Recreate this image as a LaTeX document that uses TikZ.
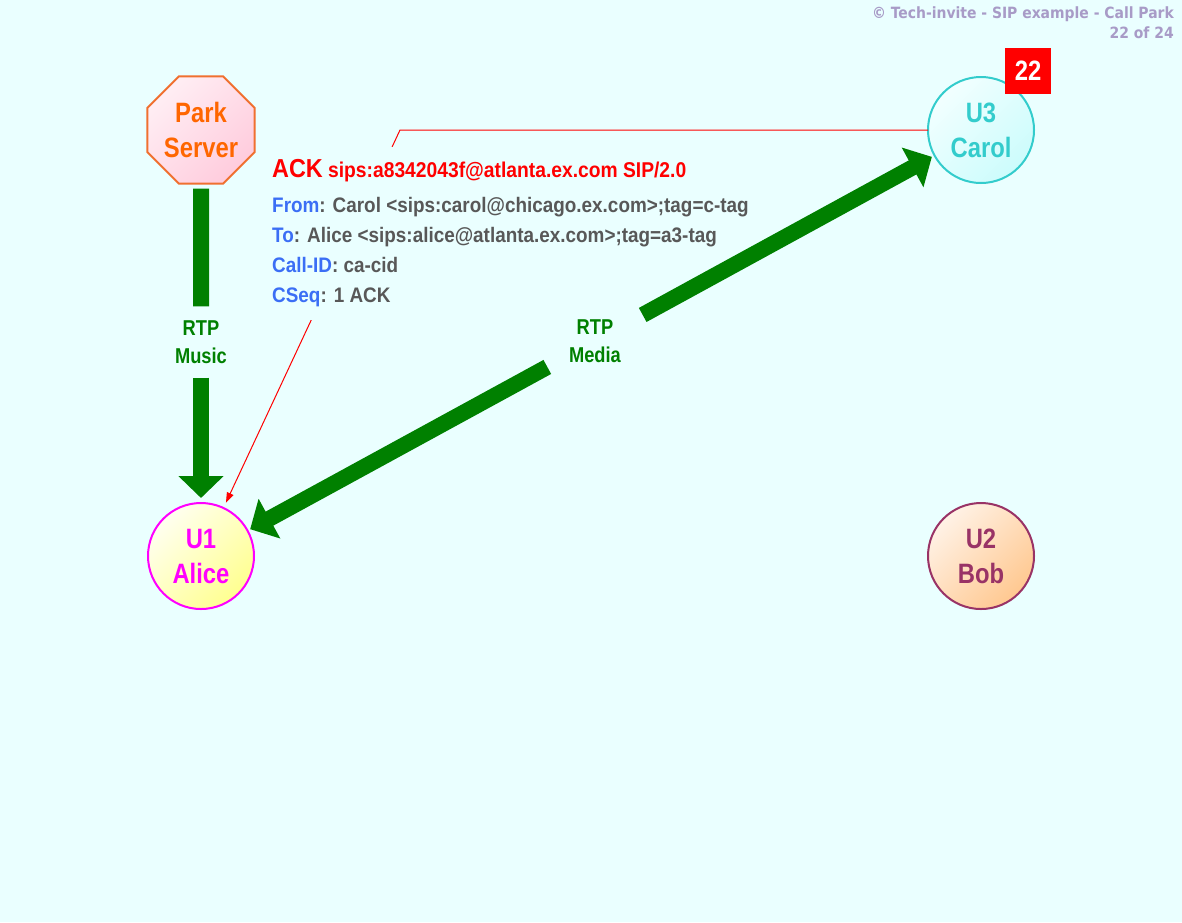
\documentclass[tikz,border=0pt]{standalone}
\usepackage{fontspec}
\setmainfont{Liberation Sans}
\newfontfamily\msgfont[FakeStretch=0.9]{Liberation Sans}
\newfontfamily\lblfont[FakeStretch=0.85]{Liberation Sans}
\newfontfamily\hdrfont{DejaVu Sans Condensed}
\usetikzlibrary{shapes.geometric,arrows.meta}
\definecolor{bg}{HTML}{EAFFFF}
\definecolor{hdrcol}{HTML}{A89BC7}
\definecolor{rtpgreen}{HTML}{008000}
\definecolor{fieldblue}{HTML}{3B6EF5}
\definecolor{valgray}{HTML}{585858}
\definecolor{alicebd}{HTML}{FF00FF}
\definecolor{alicelt}{HTML}{FFFFF0}
\definecolor{alicedk}{HTML}{FFFF90}
\definecolor{carolbd}{HTML}{33CCCC}
\definecolor{carollt}{HTML}{F2FFFF}
\definecolor{caroldk}{HTML}{CCFCFC}
\definecolor{bobbd}{HTML}{993366}
\definecolor{boblt}{HTML}{FFF2E6}
\definecolor{bobdk}{HTML}{FFC890}
\definecolor{parkbd}{HTML}{F07030}
\definecolor{parktx}{HTML}{FF6600}
\definecolor{parklt}{HTML}{FFEEF4}
\definecolor{parkdk}{HTML}{FFCCDD}
\begin{document}
\begin{tikzpicture}[x=1pt,y=-1pt,
  user/.style={circle, draw, line width=2pt, minimum size=106pt, inner sep=0pt, outer sep=0pt,
    align=center, font={\lblfont\bfseries\fontsize{28}{35}\selectfont}},
  rtplbl/.style={align=center, inner sep=0pt, text=rtpgreen,
    font={\lblfont\bfseries\fontsize{21.5}{28}\selectfont}},
  rtp/.style={draw=rtpgreen, line width=16pt},
  bigtip/.style={-{Triangle[length=22pt,width=44pt]}},
  hdr/.style={anchor=base east, inner sep=0pt, text=hdrcol, font={\hdrfont\bfseries\fontsize{15.5}{19}\selectfont}}
]
\fill[bg] (0,0) rectangle (1182,922);
\useasboundingbox (0,0) rectangle (1182,922);

% header
\node[hdr] (hdr1) at (1174,18.5) {© Tech-invite - SIP example - Call Park};
\node[hdr] (hdr2) at (1174,38) {22 of 24};

% entities
\node[regular polygon, regular polygon sides=8, minimum size=116pt, inner sep=0pt, outer sep=0pt,
  draw=parkbd, line width=2pt, top color=parklt, bottom color=parkdk, shading angle=45,
  text=parktx, align=center, font={\lblfont\bfseries\fontsize{28}{35}\selectfont}] (park) at (201,130) {Park\\Server};
\node[user, draw=alicebd, text=alicebd, top color=alicelt, bottom color=alicedk, shading angle=45] (alice) at (201,556) {U1\\Alice};
\node[user, draw=carolbd, text=carolbd, top color=carollt, bottom color=caroldk, shading angle=45] (carol) at (981,130) {U3\\Carol};
\node[user, draw=bobbd, text=bobbd, top color=boblt, bottom color=bobdk, shading angle=45] (bob) at (981,556) {U2\\Bob};
\node[fill=red, minimum size=46pt, inner sep=0pt, text=white, font={\lblfont\bfseries\fontsize{28}{30}\selectfont}] (badge) at (1028,71) {22};

% ACK message
\coordinate (bend) at (400,130);
\draw[red, line width=1pt, -{Triangle[length=10pt,width=7pt]}, shorten >=6pt] (carol) -- (bend) -- (alice);
\node[anchor=base west, fill=bg, inner xsep=2pt, inner ysep=9pt, text=valgray,
  font={\msgfont\bfseries\fontsize{21}{30}\selectfont}] (ack) at (270,177)
{\begin{tabular}[t]{@{}l@{}}
\textcolor{red}{{\fontsize{26}{30}\selectfont ACK} {\fontsize{21.4}{30}\selectfont sips:a8342043f@atlanta.ex.com SIP/2.0}}\\[5pt]
\textcolor{fieldblue}{From}: Carol <sips:carol@chicago.ex.com>;tag=c-tag\\
\textcolor{fieldblue}{To}: Alice <sips:alice@atlanta.ex.com>;tag=a3-tag\\
\textcolor{fieldblue}{Call-ID}: ca-cid\\
\textcolor{fieldblue}{CSeq}: 1 ACK
\end{tabular}};

% RTP labels
\node[rtplbl, minimum height=71pt] (rtpm) at (201,342) {RTP\\Music};
\node[rtplbl, minimum height=71pt, minimum width=95pt] (rtpmed) at (595,341) {RTP\\Media};

% RTP flows
\draw[rtp, shorten <=5pt] (park) -- (rtpm);
\draw[rtp, bigtip, shorten >=5pt] (rtpm) -- (alice);
\draw[rtp, bigtip, shorten >=3pt] (rtpmed) -- (alice);
\draw[rtp, bigtip, shorten >=3pt] (rtpmed) -- (carol);
\end{tikzpicture}
\end{document}
